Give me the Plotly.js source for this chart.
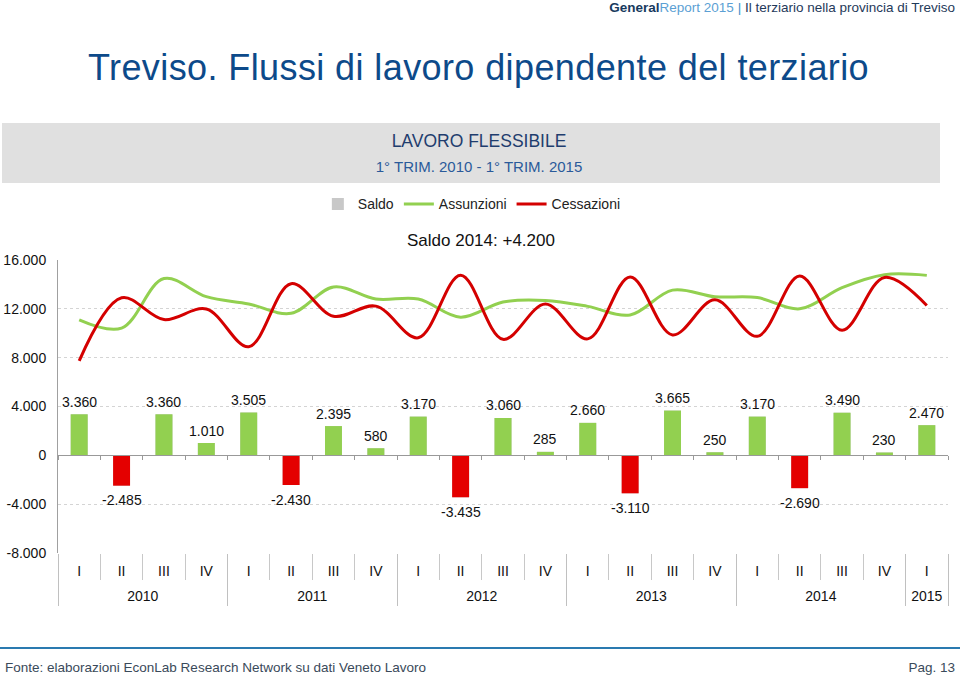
<!DOCTYPE html>
<html><head><meta charset="utf-8">
<script src="https://cdn.plot.ly/plotly-3.0.1.min.js"></script>
<style>
body{margin:0;background:#fff;font-family:"Liberation Sans",Arial,sans-serif;}
#wrap{position:relative;width:960px;height:681px;overflow:hidden;background:#fff;}
#chart{position:absolute;left:0;top:0;width:960px;height:681px;}
.abs{position:absolute;white-space:nowrap;}
</style></head><body>
<div id="wrap">
<div class="abs" style="left:2px;top:123px;width:938px;height:60px;background:#e0e0e0;"></div>
<div id="chart"></div>
<div class="abs" style="right:5px;top:0px;font-size:13.5px;line-height:16px;"><b style="color:#173a5e">General</b><span style="color:#5b9fd4">Report 2015</span> <span style="color:#3a8fc8">|</span> <span style="color:#1f3a5a">Il terziario nella provincia di Treviso</span></div>
<div class="abs" style="left:88px;top:47px;font-size:36px;line-height:42px;letter-spacing:0.4px;color:#0d4a8a;">Treviso. Flussi di lavoro dipendente del terziario</div>
<div class="abs" style="left:279px;width:400px;text-align:center;top:131px;font-size:17.5px;line-height:20px;color:#1f3d6e;">LAVORO FLESSIBILE</div>
<div class="abs" style="left:279px;width:400px;text-align:center;top:158px;font-size:15px;line-height:18px;color:#2a5a9a;">1° TRIM. 2010 - 1° TRIM. 2015</div>
<div class="abs" style="left:0;top:647px;width:960px;height:2px;background:#2a7ab0;"></div>
<div class="abs" style="left:5px;top:660px;font-size:13.5px;line-height:16px;color:#3a4a5a;">Fonte: elaborazioni EconLab Research Network su dati Veneto Lavoro</div>
<div class="abs" style="right:5px;top:660px;font-size:13.5px;line-height:16px;color:#3a4a5a;">Pag. 13</div>
</div>
<script>
const quarters = ['I','II','III','IV','I','II','III','IV','I','II','III','IV','I','II','III','IV','I','II','III','IV','I'];
const years = ['2010','2010','2010','2010','2011','2011','2011','2011','2012','2012','2012','2012','2013','2013','2013','2013','2014','2014','2014','2014','2015'];
const saldo = [3360,-2485,3360,1010,3505,-2430,2395,580,3170,-3435,3060,285,2660,-3110,3665,250,3170,-2690,3490,230,2470];
const assunzioni = [11100,10420,14480,13000,12400,11630,13790,12800,12800,11320,12560,12680,12200,11500,13530,12990,12920,12000,13740,14800,14740];
const cessazioni = [7740,12905,11120,11990,8895,14060,11395,12220,9630,14755,9500,12395,9540,14610,9865,12740,9750,14690,10250,14570,12270];
const yTickVals = [-8000,-4000,0,4000,8000,12000,16000];
const yTickText = ['-8.000','-4.000','0','4.000','8.000','12.000','16.000'];

function fmt(v){
  const s = String(Math.abs(v)).replace(/\B(?=(\d{3})+(?!\d))/g,'.');
  return (v<0?'-':'')+s;
}
const cats = years.map((y,i)=>y+' '+quarters[i]);
const n = cats.length;
const yearNames = [], yearCentres = [], yearBounds = [-0.5];
years.forEach((y,i)=>{
  if (i===0 || years[i-1]!==y){ yearNames.push(y); }
  if (i===n-1 || years[i+1]!==y){
    const start = years.indexOf(y);
    yearCentres.push((start+i)/2);
    yearBounds.push(i+0.5);
  }
});
const GREEN = '#92d050', RED = '#e40000', LRED = '#d40000';
const FONT = '"Liberation Sans",Arial,sans-serif';

const traces = [
  {type:'bar', x:cats, y:saldo, name:'Saldo', width:0.4, marker:{color:'#c8c8c8'}, hoverinfo:'skip'},
  {type:'bar', x:cats, y:saldo, name:'Saldo', showlegend:false, width:0.4,
   marker:{color:saldo.map(v=>v<0?RED:GREEN)}},
  {type:'scatter', mode:'lines', x:cats, y:assunzioni, name:'Assunzioni',
   line:{color:GREEN,width:3,shape:'spline',smoothing:1}},
  {type:'scatter', mode:'lines', x:cats, y:cessazioni, name:'Cessazioni',
   line:{color:LRED,width:3,shape:'spline',smoothing:1}}
];
// empty helper traces so that the overlay axes (zero line ticks, separators, year row) get drawn
['x2','x3','x4','x5'].forEach(ax=>traces.push({type:'scatter', mode:'lines', x:[], y:[], xaxis:ax, yaxis:'y', showlegend:false, hoverinfo:'skip'}));

const labelAnns = saldo.map((v,i)=>({
  x:cats[i], y:v, xref:'x', yref:'y', text:fmt(v), showarrow:false,
  yanchor:'middle', yshift: v>=0 ? 12.5 : -14.7,
  font:{size:14,color:'#111',family:FONT}
}));

const baseLin = {type:'linear', overlaying:'x', anchor:'free', range:[-0.5,n-0.5],
  showgrid:false, zeroline:false, showline:false};

const layout = {
  width:960, height:681,
  margin:{l:58,r:12,t:260,b:128},
  paper_bgcolor:'rgba(0,0,0,0)', plot_bgcolor:'rgba(0,0,0,0)',
  font:{family:FONT, size:14, color:'#111'},
  showlegend:true,
  legend:{orientation:'h', x:0.465, xanchor:'center', y:1.19, yanchor:'middle', itemwidth:30,
    font:{size:14,color:'#222'}, bgcolor:'rgba(0,0,0,0)', traceorder:'normal'},
  barmode:'overlay',
  xaxis:{type:'category', range:[-0.5,n-0.5], showgrid:false, showline:false, zeroline:false,
    tickmode:'array', tickvals:cats, ticktext:quarters, ticks:'', ticklabelstandoff:8,
    tickfont:{size:14,color:'#111'}},
  xaxis2:Object.assign({}, baseLin, {position:1/3, tickmode:'linear', tick0:-0.5, dtick:1,
    ticks:'outside', ticklen:4, tickcolor:'#999', showline:true, linecolor:'#999', linewidth:1,
    showticklabels:false}),
  xaxis3:Object.assign({}, baseLin, {position:0, tickmode:'linear', tick0:-0.5, dtick:1,
    ticks:'outside', ticklen:26, tickcolor:'#c8c8c8', showticklabels:false}),
  xaxis4:Object.assign({}, baseLin, {position:0, tickmode:'array', tickvals:yearCentres, ticktext:yearNames,
    ticks:'', ticklabelstandoff:33, tickfont:{size:14,color:'#111'}}),
  xaxis5:Object.assign({}, baseLin, {position:0, tickmode:'array', tickvals:yearBounds,
    ticks:'outside', ticklen:52, tickcolor:'#c0c0c0', showticklabels:false}),
  yaxis:{range:[-8000,16000], tickmode:'array', tickvals:yTickVals, ticktext:yTickText,
    showgrid:true, gridcolor:'#d4d4d4', griddash:'dot', showline:true, linecolor:'#a0a0a0',
    zeroline:false, ticks:'', ticklabelstandoff:8, tickfont:{size:14,color:'#111'}},
  annotations:[{text:'Saldo 2014: +4.200', xref:'paper', yref:'paper', x:0.475, y:1.068,
    xanchor:'center', yanchor:'middle', showarrow:false, font:{size:17,color:'#111'}}].concat(labelAnns)
};
Plotly.newPlot('chart', traces, layout, {displayModeBar:false, staticPlot:true});
</script>
</body></html>
